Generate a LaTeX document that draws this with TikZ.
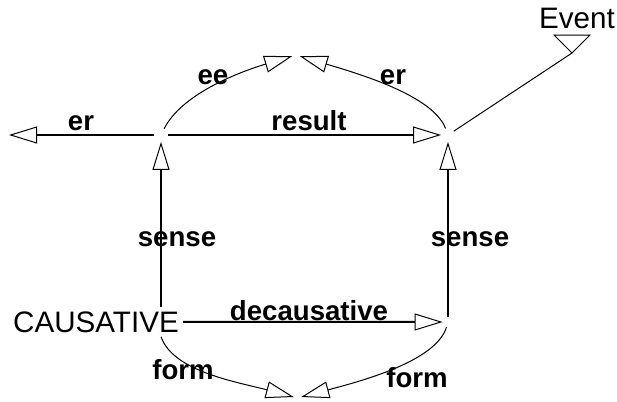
\documentclass[tikz,border=0pt]{standalone}
\usepackage{fontspec}
\setmainfont{Liberation Sans}
\usetikzlibrary{arrows.meta}

\tikzset{
  lab/.style={font=\fontsize{13.8}{15}\selectfont\bfseries, inner sep=0pt, anchor=base},
  word/.style={font=\fontsize{14.8}{16}\selectfont, inner sep=0pt, anchor=base},
  hub/.style={circle, inner sep=0pt, minimum size=6.5pt},
  dock/.style={circle, inner sep=0pt, minimum size=3.5pt},
  link/.style={line width=1pt, -{Triangle[open, length=14pt, width=8.5pt, line width=0.5pt]}},
  arc/.style={line width=0.5pt, -{Triangle[open, length=14pt, width=8.5pt, line width=0.5pt]}}
}

\begin{document}
\begin{tikzpicture}[x=0.5pt, y=-0.5pt]
\useasboundingbox (0,0) rectangle (617,402);

\node[hub] (a) at (161,135) {};
\node[hub] (b) at (448,135) {};
\node[hub, minimum size=5pt] (c) at (448,322) {};
\node[dock] (t) at (296,55) {};
\node[dock] (d) at (297.5,398) {};
\coordinate (lend) at (9,135);
\coordinate (evtip) at (572,53);

\node[word, inner sep=2pt] (caus) at (96,332) {CAUSATIVE};
\node[word] (event) at (577,28) {Event};

\draw [link] (a) -- (lend);
\draw [link] (a) -- (b);
\draw [link] (caus.north -| a) -- (a);
\draw [link] (c) -- (b);
\draw [link] (caus) -- (c);

\draw [arc] (a) .. controls +(20,-40) and +(-60,18) .. (t);
\draw [arc] (b) .. controls +(-15,-40) and +(60,18) .. (t);
\draw [arc] (caus.south -| a) .. controls +(12,35) and +(-60,-16) .. (d);
\draw [arc] (c) .. controls +(-12,40) and +(60,-16) .. (d);

\draw [line width=0.5pt] (b) -- (evtip);
\draw [line width=0.5pt] (evtip) -- ++(-18,-18) -- ++(36,0) -- cycle;

\node[lab] (er1) at (81,130) {er};
\node[lab] (result) at (309,130) {result};
\node[lab] (ee) at (213,84) {ee};
\node[lab] (er2) at (393,84) {er};
\node[lab] (sense1) at (177,246) {sense};
\node[lab] (sense2) at (470,246) {sense};
\node[lab] (decaus) at (309,320) {decausative};
\node[lab] (form1) at (183,379) {form};
\node[lab] (form2) at (417,387) {form};
\end{tikzpicture}
\end{document}
